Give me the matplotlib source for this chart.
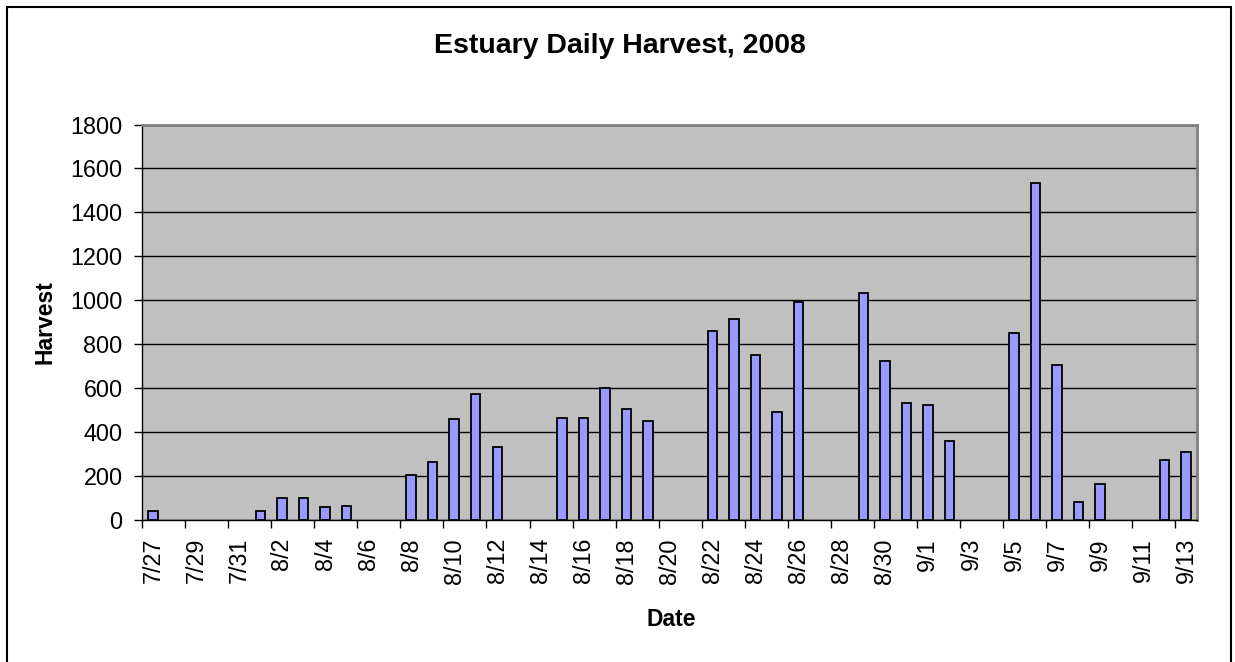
import datetime as dt
import matplotlib
matplotlib.use("Agg")
import matplotlib.pyplot as plt
from matplotlib.patches import Rectangle

plt.rcParams['font.family'] = ['Liberation Sans', 'DejaVu Sans']

# ---- data ----
start_label = "7/27"
end_label = "9/13"
bar_dates = ["7/27", "8/1", "8/2", "8/3", "8/4", "8/5",
             "8/8", "8/9", "8/10", "8/11", "8/12",
             "8/15", "8/16", "8/17", "8/18", "8/19",
             "8/22", "8/23", "8/24", "8/25", "8/26",
             "8/29", "8/30", "8/31", "9/1", "9/2",
             "9/5", "9/6", "9/7", "9/8", "9/9",
             "9/12", "9/13"]
harvest = [42, 42, 100, 100, 58, 65,
           206, 266, 458, 575, 332,
           466, 466, 601, 507, 449,
           859, 917, 750, 492, 991,
           1033, 725, 534, 525, 358,
           850, 1534, 707, 82, 165,
           275, 308]
tick_labels = ["7/27", "7/29", "7/31", "8/2", "8/4", "8/6", "8/8", "8/10",
               "8/12", "8/14", "8/16", "8/18", "8/20", "8/22", "8/24", "8/26",
               "8/28", "8/30", "9/1", "9/3", "9/5", "9/7", "9/9", "9/11", "9/13"]
y_ticks = [0, 200, 400, 600, 800, 1000, 1200, 1400, 1600, 1800]

title = "Estuary Daily Harvest, 2008"
xlabel = "Date"
ylabel = "Harvest"


def to_date(s):
    m, d = s.split("/")
    return dt.date(2008, int(m), int(d))


t0 = to_date(start_label)
n_days = (to_date(end_label) - t0).days + 1
x_bars = [(to_date(s) - t0).days + 0.5 for s in bar_dates]
x_labels = [(to_date(s) - t0).days + 0.5 for s in tick_labels]

W, H = 1235, 662
fig = plt.figure(figsize=(W / 100, H / 100), dpi=100)
fig.patch.set_facecolor("white")

L, R, T, B = 142, 1197, 124.5, 520
ax = fig.add_axes([L / W, 1 - B / H, (R - L) / W, (B - T) / H])
ax.set_facecolor("#C0C0C0")

ax.bar(x_bars, harvest, width=0.44, color="#9999FF", edgecolor="black",
       linewidth=1.3, zorder=3)

ax.set_xlim(0, n_days)
ax.set_ylim(0, 1800)
ax.set_yticks(y_ticks)
ax.set_yticklabels([str(v) for v in y_ticks])
ax.yaxis.grid(True, color="black", linewidth=1.0)
ax.set_axisbelow(True)

# x ticks at day boundaries every 2 days, labels centered on days
ax.set_xticks(list(range(0, n_days, 2)))
ax.set_xticklabels([])
ax.set_xticks(x_labels, minor=True)
ax.set_xticklabels(tick_labels, minor=True, rotation=90, va="top", ha="center")
ax.tick_params(axis="x", which="major", direction="out", length=6, width=1, color="black")
ax.tick_params(axis="x", which="minor", length=0, pad=13, labelsize=16.8)
ax.tick_params(axis="y", direction="out", length=6, width=1, color="black",
               pad=8, labelsize=16.8)

for side in ("top", "right"):
    ax.spines[side].set_color("#808080")
    ax.spines[side].set_linewidth(2)
for side in ("left", "bottom"):
    ax.spines[side].set_color("black")
    ax.spines[side].set_linewidth(1)

fig.text(620 / W, 1 - 46 / H, title, ha="center", va="center",
         fontsize=20.5, fontweight="bold")
fig.text(671 / W, 1 - 620 / H, xlabel, ha="center", va="center",
         fontsize=16.5, fontweight="bold")
fig.text(45 / W, 1 - 322 / H, ylabel, ha="center", va="center",
         fontsize=16.5, fontweight="bold", rotation=90)

fig.patches.append(Rectangle((7 / W, -0.01), (1231 - 7) / W, (1 - 7 / H) + 0.01,
                             transform=fig.transFigure, fill=False,
                             edgecolor="black", linewidth=1.5))

fig.savefig("out.png", dpi=100, facecolor="white")
